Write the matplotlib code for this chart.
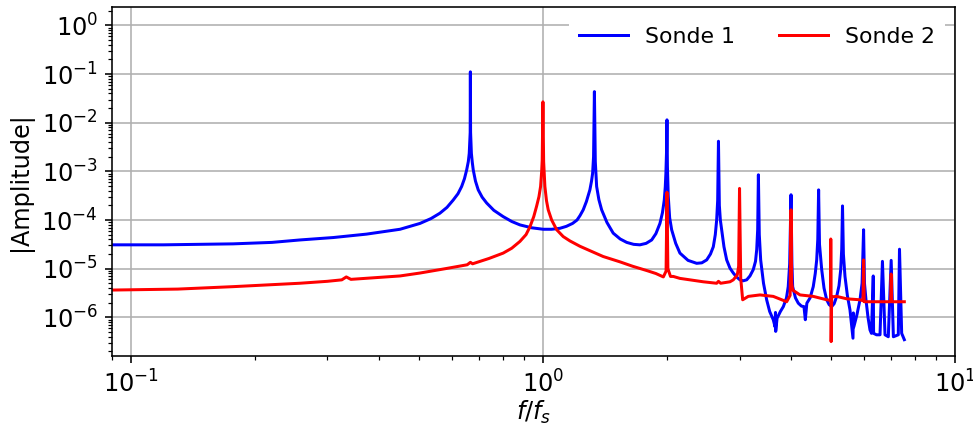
import numpy as np
import matplotlib
matplotlib.use("Agg")
import matplotlib.pyplot as plt

# ── data (f/fs, log10 |amplitude|) ───────────────────────────────────────────
sonde1_f = [
    0.0899, 0.12, 0.147, 0.177, 0.22, 0.257, 0.31, 0.373, 0.41, 0.45,
    0.503, 0.535, 0.5623, 0.585, 0.6056, 0.622, 0.635, 0.645, 0.653, 0.659,
    0.6625, 0.666, 0.6667, 0.6675, 0.6705, 0.674, 0.6775, 0.686, 0.6966, 0.712,
    0.7302, 0.76, 0.8009, 0.84, 0.8794, 0.94, 1.0017, 1.05, 1.0998, 1.14,
    1.18, 1.21, 1.23, 1.2525, 1.275, 1.300, 1.312, 1.320, 1.327, 1.3333,
    1.34, 1.350, 1.367, 1.3883, 1.43, 1.481, 1.54, 1.597, 1.66, 1.719,
    1.78, 1.836, 1.88, 1.923, 1.95, 1.970, 1.981, 1.988, 1.995, 2.0,
    2.005, 2.014, 2.03, 2.053, 2.10, 2.150, 2.25, 2.361, 2.43, 2.497,
    2.55, 2.591, 2.62, 2.640, 2.655, 2.6667, 2.68, 2.695, 2.715, 2.75,
    2.792, 2.844, 2.897, 2.95, 3.007, 3.06, 3.122, 3.18, 3.239, 3.28,
    3.302, 3.32, 3.3333, 3.35, 3.376, 3.43, 3.491, 3.55, 3.622, 3.66,
    3.667, 3.672, 3.70, 3.77, 3.832, 3.90, 3.938, 3.97, 4.0, 4.02,
    4.037, 4.10, 4.166, 4.24, 4.30, 4.333, 4.37, 4.45, 4.529, 4.58,
    4.617, 4.645, 4.6667, 4.69, 4.748, 4.81, 4.882, 4.95, 5.020, 5.09,
    5.163, 5.23, 5.280, 5.31, 5.3333, 5.36, 5.408, 5.48, 5.561, 5.655,
    5.667, 5.68, 5.78, 5.881, 5.95, 6.0, 6.03, 6.081, 6.15, 6.219,
    6.27, 6.3333, 6.345, 6.45, 6.577, 6.6667, 6.763, 6.889, 7.0, 7.087,
    7.284, 7.3333, 7.423, 7.534,
]
sonde1_log = [
    -4.51, -4.51, -4.50, -4.49, -4.46, -4.41, -4.36, -4.29, -4.24, -4.19,
    -4.07, -3.97, -3.86, -3.74, -3.59, -3.46, -3.31, -3.15, -2.97, -2.80,
    -2.63, -2.20, -0.953, -2.20, -2.63, -2.82, -2.97, -3.20, -3.38, -3.53,
    -3.65, -3.80, -3.93, -4.03, -4.10, -4.16, -4.19, -4.19, -4.17, -4.13,
    -4.07, -4.00, -3.91, -3.79, -3.62, -3.38, -3.20, -3.04, -2.70, -1.36,
    -2.80, -3.31, -3.58, -3.79, -4.05, -4.27, -4.39, -4.46, -4.50, -4.51,
    -4.48, -4.41, -4.28, -4.07, -3.85, -3.59, -3.32, -3.04, -2.60, -1.94,
    -2.90, -3.50, -3.95, -4.20, -4.48, -4.68, -4.83, -4.89, -4.88, -4.82,
    -4.70, -4.55, -4.30, -4.00, -3.60, -2.38, -3.70, -4.00, -4.20, -4.55,
    -4.82, -4.99, -5.09, -5.17, -5.23, -5.25, -5.23, -5.15, -5.02, -4.85,
    -4.61, -4.20, -3.07, -4.30, -4.82, -5.30, -5.64, -5.88, -6.05, -6.20,
    -5.90, -6.29, -6.02, -5.88, -5.78, -5.60, -5.37, -4.90, -3.48, -4.90,
    -5.37, -5.60, -5.71, -5.77, -5.78, -6.05, -5.71, -5.60, -5.37, -5.10,
    -4.82, -4.40, -3.38, -4.50, -5.02, -5.40, -5.64, -5.74, -5.78, -5.72,
    -5.57, -5.35, -5.02, -4.60, -3.71, -4.70, -5.16, -5.55, -5.85, -6.43,
    -5.91, -6.20, -5.95, -5.64, -5.30, -4.20, -5.30, -5.64, -6.00, -6.26,
    -6.33, -5.15, -6.33, -6.36, -6.36, -4.85, -6.36, -6.40, -4.83, -6.40,
    -6.36, -4.60, -6.33, -6.46,
]

sonde2_f = [
    0.0899, 0.13, 0.177, 0.257, 0.30, 0.325, 0.3333, 0.342, 0.40, 0.45,
    0.503, 0.58, 0.655, 0.6667, 0.675, 0.74, 0.8009, 0.84, 0.8794, 0.91,
    0.930, 0.95, 0.965, 0.978, 0.987, 0.993, 0.996, 1.0, 1.004, 1.011,
    1.02, 1.030, 1.05, 1.080, 1.12, 1.163, 1.23, 1.300, 1.40, 1.538,
    1.65, 1.788, 1.88, 1.96, 1.99, 2.0, 2.01, 2.04, 2.072, 2.15,
    2.274, 2.45, 2.64, 2.6667, 2.70, 2.844, 2.897, 2.962, 2.985, 3.0,
    3.02, 3.053, 3.150, 3.363, 3.622, 3.904, 3.98, 4.0, 4.015, 4.037,
    4.206, 4.529, 4.882, 4.99, 4.995, 5.005, 5.02, 5.163, 5.46, 5.881,
    5.98, 6.0, 6.02, 6.10, 6.577, 6.98, 7.0, 7.02, 7.087, 7.534,
]
sonde2_log = [
    -5.44, -5.42, -5.37, -5.30, -5.26, -5.23, -5.17, -5.22, -5.18, -5.15,
    -5.09, -5.00, -4.92, -4.87, -4.90, -4.79, -4.68, -4.58, -4.44, -4.30,
    -4.14, -3.93, -3.72, -3.52, -3.31, -3.00, -2.77, -1.57, -2.80, -3.31,
    -3.60, -3.79, -4.00, -4.20, -4.34, -4.43, -4.54, -4.63, -4.75, -4.86,
    -4.95, -5.04, -5.10, -5.17, -5.05, -3.43, -5.00, -5.16, -5.16, -5.20,
    -5.23, -5.27, -5.30, -5.26, -5.30, -5.27, -5.23, -5.13, -4.95, -3.35,
    -5.20, -5.64, -5.57, -5.54, -5.57, -5.68, -5.55, -3.79, -5.30, -5.44,
    -5.54, -5.57, -5.64, -5.65, -4.39, -6.50, -5.58, -5.57, -5.62, -5.64,
    -5.66, -4.82, -5.68, -5.68, -5.68, -5.68, -5.11, -5.68, -5.68, -5.68,
]

amp1 = 10.0 ** np.array(sonde1_log)
amp2 = 10.0 ** np.array(sonde2_log)

# ── figure ───────────────────────────────────────────────────────────────────
DPI = 144
fig = plt.figure(figsize=(973 / DPI, 428 / DPI), dpi=DPI)
ax = fig.add_axes([112 / 973, 1 - 356 / 428, (955 - 112) / 973, (356 - 7) / 428])

ax.loglog(sonde1_f, amp1, color="blue", lw=1.5, label="Sonde 1")
ax.loglog(sonde2_f, amp2, color="red", lw=1.5, label="Sonde 2")

ax.set_xlim(0.09, 10)
ax.set_ylim(1.6e-7, 2.4)
ax.grid(True, which="major", color="#b0b0b0", lw=0.8)
ax.set_xlabel("$f/f_s$", fontsize=12, labelpad=1)
ax.set_ylabel("|Amplitude|", fontsize=12)
ax.tick_params(labelsize=12)

leg = ax.legend(loc="upper right", ncol=2, fontsize=11, framealpha=1,
                edgecolor="white", handlelength=2.2)

fig.savefig("out.png", dpi=DPI)
